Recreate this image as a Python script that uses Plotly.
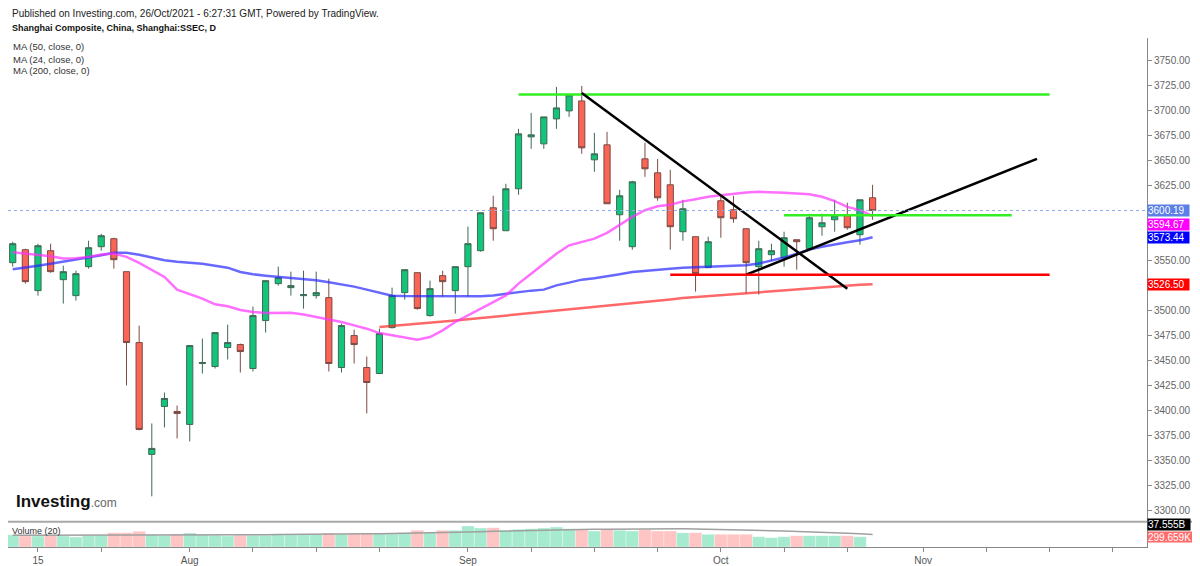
import plotly.graph_objects as go

# Shanghai Composite daily bars
dates = ["2021-07-13", "2021-07-14", "2021-07-15", "2021-07-16", "2021-07-19", "2021-07-20",
         "2021-07-21", "2021-07-22", "2021-07-23", "2021-07-26", "2021-07-27", "2021-07-28",
         "2021-07-29", "2021-07-30", "2021-08-02", "2021-08-03", "2021-08-04", "2021-08-05",
         "2021-08-06", "2021-08-09", "2021-08-10", "2021-08-11", "2021-08-12", "2021-08-13",
         "2021-08-16", "2021-08-17", "2021-08-18", "2021-08-19", "2021-08-20", "2021-08-23",
         "2021-08-24", "2021-08-25", "2021-08-26", "2021-08-27", "2021-08-30", "2021-08-31",
         "2021-09-01", "2021-09-02", "2021-09-03", "2021-09-06", "2021-09-07", "2021-09-08",
         "2021-09-09", "2021-09-10", "2021-09-13", "2021-09-14", "2021-09-15", "2021-09-16",
         "2021-09-17", "2021-09-22", "2021-09-23", "2021-09-24", "2021-09-27", "2021-09-28",
         "2021-09-29", "2021-09-30", "2021-10-08", "2021-10-11", "2021-10-12", "2021-10-13",
         "2021-10-14", "2021-10-15", "2021-10-18", "2021-10-19", "2021-10-20", "2021-10-21",
         "2021-10-22", "2021-10-25", "2021-10-26"]
future_dates = ["2021-10-27", "2021-10-28", "2021-10-29", "2021-11-01", "2021-11-02", "2021-11-03",
                "2021-11-04", "2021-11-05", "2021-11-08", "2021-11-09", "2021-11-10", "2021-11-11",
                "2021-11-12", "2021-11-15", "2021-11-16", "2021-11-17", "2021-11-18", "2021-11-19",
                "2021-11-22", "2021-11-23", "2021-11-24", "2021-11-25"]

opens = [3548, 3561, 3520, 3560, 3531, 3515, 3544, 3564, 3572, 3539, 3468, 3356, 3404, 3399,
         3386, 3447, 3444, 3463, 3466, 3442, 3490, 3527, 3523, 3515, 3515, 3513, 3443, 3475,
         3443, 3437, 3483, 3518, 3538, 3495, 3535, 3520, 3544, 3560, 3603, 3580, 3622, 3674,
         3667, 3692, 3700, 3710, 3651, 3666, 3596, 3564, 3652, 3638, 3626, 3579, 3574, 3543,
         3610, 3601, 3582, 3544, 3556, 3553, 3571, 3562, 3584, 3591, 3595, 3576, 3613]
highs = [3569, 3562, 3567, 3567, 3545, 3540, 3570, 3577, 3573, 3539, 3485, 3387, 3418, 3405,
         3465, 3472, 3478, 3486, 3467, 3504, 3530, 3544, 3539, 3540, 3539, 3532, 3487, 3481,
         3454, 3482, 3523, 3541, 3538, 3530, 3540, 3544, 3584, 3598, 3615, 3627, 3682, 3698,
         3694, 3724, 3716, 3725, 3678, 3679, 3621, 3630, 3668, 3652, 3641, 3611, 3574, 3574,
         3615, 3615, 3582, 3570, 3567, 3579, 3571, 3597, 3597, 3611, 3608, 3611, 3626]
lows = [3544, 3527, 3515, 3538, 3507, 3510, 3542, 3560, 3542, 3425, 3380, 3314, 3383, 3372,
        3369, 3437, 3442, 3451, 3438, 3439, 3478, 3525, 3515, 3502, 3512, 3439, 3438, 3447,
        3397, 3437, 3482, 3511, 3501, 3494, 3514, 3497, 3514, 3559, 3570, 3580, 3616, 3662,
        3662, 3682, 3694, 3657, 3639, 3607, 3570, 3561, 3634, 3610, 3561, 3570, 3519, 3543,
        3573, 3588, 3517, 3516, 3550, 3544, 3541, 3562, 3575, 3579, 3581, 3566, 3591]
closes = [3567, 3529, 3565, 3539, 3539, 3537, 3563, 3575, 3551, 3468, 3381, 3362, 3412, 3397,
          3465, 3448, 3478, 3468, 3459, 3495, 3530, 3533, 3525, 3516, 3518, 3447, 3485, 3466,
          3428, 3477, 3515, 3541, 3502, 3522, 3529, 3544, 3567, 3598, 3582, 3622, 3677, 3676,
          3694, 3703, 3716, 3663, 3657, 3607, 3615, 3629, 3642, 3613, 3584, 3602, 3537, 3569,
          3593, 3592, 3548, 3562, 3560, 3573, 3569, 3593, 3588, 3595, 3583, 3611, 3600.19]

# moving averages as drawn on the chart
ma50 = [3541.5, 3543, 3545, 3547, 3549, 3551, 3553, 3555.4, 3558, 3558, 3556, 3553, 3550.4,
        3549, 3548, 3547, 3545, 3543, 3538.7, 3536.4, 3535, 3534, 3533, 3531.7, 3530.4, 3528.5,
        3526.3, 3524, 3521, 3518, 3515, 3514.6, 3514.6, 3514.6, 3514.4, 3514.2, 3514.2, 3514.5,
        3515.2, 3517, 3518.6, 3520, 3521, 3525.3, 3528, 3531, 3532.5, 3534.3, 3536.5, 3538.7,
        3540, 3541, 3542, 3543, 3543.4, 3543.7, 3544, 3544.4, 3545.5, 3547.1, 3550, 3553.1,
        3557, 3561.1, 3564, 3566.5, 3568.5, 3570.5, 3573.44]
ma24 = [3558.5, 3557.1, 3555.5, 3554.4, 3552.1, 3552.5, 3553.8, 3556.1, 3557.1, 3553.8, 3547.7,
        3540.4, 3533.7, 3521, 3516.3, 3512, 3506.3, 3504.3, 3500.6, 3498.6, 3497.6, 3497.8,
        3497.9, 3496, 3493.6, 3491, 3488.6, 3485.2, 3481.9, 3477.5, 3475.2, 3473.5, 3470.9,
        3473.5, 3480.2, 3488.6, 3495, 3501.9, 3508.6, 3515.2, 3527, 3537, 3547, 3557, 3565.4,
        3568.8, 3572.1, 3577.8, 3585.5, 3593.8, 3600.5, 3604.5, 3606, 3609.4, 3611.6, 3614,
        3615.6, 3617.3, 3618.3, 3619, 3618.7, 3618, 3617.3, 3616.6, 3614, 3609.6, 3603.9,
        3600.6, 3594.67]
ma200 = [None] * 29 + [3483.5, 3484.5, 3485.5, 3486.5, 3487.7, 3488.8, 3490, 3491.3, 3492.5,
                       3493.7, 3495, 3496.2, 3497.5, 3498.7, 3500, 3501.2, 3502.5, 3503.7,
                       3505, 3506.2, 3507.5, 3508.7, 3510, 3511.2, 3512.5, 3513.5, 3514.5,
                       3515.5, 3516.5, 3517.5, 3518.5, 3519.5, 3520.5, 3521.5, 3522.5, 3523.5,
                       3524.5, 3525.3, 3526, 3526.5]

# volume, billions
volume = [37, 33, 33, 35, 33, 30, 35, 35, 43, 43, 47, 37, 35, 39, 42, 37, 35, 33, 35, 35, 35,
          38, 37, 37, 38, 42, 38, 40, 40, 40, 40, 43, 50, 43, 50, 50, 63, 57, 58, 51, 53, 55,
          57, 60, 55, 53, 48, 53, 50, 48, 52, 48, 48, 43, 43, 38, 38, 38, 38, 31, 28, 31, 34,
          34, 34, 34, 34, 31, 0.000299659]
volume_ma = [35, 35, 35, 35, 35, 35, 35, 35.5, 35.5, 36, 36, 36, 36, 36.5, 36.5, 36.5, 37, 37,
             37, 37, 37, 37.5, 37.5, 38, 38, 38, 38.5, 39, 39.5, 40, 40.5, 41, 41.5, 42, 43, 44,
             45, 46, 47, 48, 49, 50, 51, 51.5, 52, 52.5, 53, 53.5, 54, 54.5, 55, 55, 55, 54.5,
             54, 53.5, 53, 52, 51, 50, 49, 48, 47, 45.5, 44, 42.5, 41, 39.5, 37.555]

tick_dates = ["2021-07-15", "2021-07-22", "2021-08-02", "2021-08-09", "2021-08-16", "2021-08-23",
              "2021-09-01", "2021-09-08", "2021-09-15", "2021-09-24", "2021-10-08", "2021-10-15",
              "2021-10-22", "2021-11-01", "2021-11-08", "2021-11-15", "2021-11-22"]
tick_text = ["15", "", "Aug", "", "", "", "Sep", "", "", "", "Oct", "", "", "Nov", "", "", ""]

# price ticks; the ones hidden behind the value labels are left out
price_ticks = [3300, 3325, 3350, 3375, 3400, 3425, 3450, 3475, 3500, 3550, 3625, 3650, 3675,
               3700, 3725, 3750]

# author's drawings: (start date, start price, end date, end price, colour)
drawings = [
    ("2021-09-07", 3716.5, "2021-11-15", 3716.5, "#33ee22"),
    ("2021-09-14", 3718, "2021-10-22", 3522, "#000000"),
    ("2021-10-12", 3536, "2021-11-12", 3652, "#000000"),
    ("2021-10-15", 3595.5, "2021-11-10", 3595.5, "#33ee22"),
    ("2021-09-27", 3536, "2021-11-15", 3536, "#ff0000"),
]

all_dates = dates + future_dates
x = list(range(len(dates)))
xpos = {d: i for i, d in enumerate(all_dates)}

# the page body has an 8px margin, so the figure is 8px smaller and offset
OFF = 8
W, H = 1200 - OFF, 566 - OFF
L, T, B = 0, 38 - OFF, 19
R = W - (1147.5 - OFF)
pw, ph = W - L - R, H - T - B


def px(xp):
    return (xp - OFF - L) / pw


def py(yp):
    return (H - B - (yp - OFF)) / ph


vol_top = py(521.7)

fig = go.Figure()

fig.add_trace(go.Candlestick(
    x=x, open=opens, high=highs, low=lows, close=closes,
    increasing=dict(fillcolor="#13c47b", line=dict(color="#3e6a55", width=1)),
    decreasing=dict(fillcolor="#fb6555", line=dict(color="#7c4a44", width=1)),
    whiskerwidth=0, xaxis="x", yaxis="y", showlegend=False))

fig.add_trace(go.Scatter(x=x, y=ma200, mode="lines", line=dict(color="rgba(255,40,40,0.7)", width=2.5),
                         xaxis="x", yaxis="y", showlegend=False))
fig.add_trace(go.Scatter(x=x, y=ma50, mode="lines", line=dict(color="rgba(40,40,255,0.7)", width=2.5),
                         xaxis="x", yaxis="y", showlegend=False))
fig.add_trace(go.Scatter(x=x, y=ma24, mode="lines", line=dict(color="rgba(255,50,255,0.7)", width=2.5),
                         xaxis="x", yaxis="y", showlegend=False))

for d0, p0, d1, p1, col in drawings:
    fig.add_trace(go.Scatter(x=[xpos[d0], xpos[d1]], y=[p0, p1], mode="lines",
                             line=dict(color=col, width=2.5), xaxis="x", yaxis="y",
                             showlegend=False))

vol_colors = ["#a6ebcf" if c >= o else "#ffc4c4" for o, c in zip(opens, closes)]
fig.add_trace(go.Bar(x=x, y=volume, width=1,
                     marker=dict(color=vol_colors, line=dict(color="rgba(255,255,255,0.6)", width=0.5)),
                     xaxis="x2", yaxis="y2", showlegend=False))
fig.add_trace(go.Scatter(x=x, y=volume_ma, mode="lines", line=dict(color="#a0a0a0", width=1.5),
                         xaxis="x2", yaxis="y2", showlegend=False))

xr = [(OFF - 12.7) / 12.65, 89.7]
fig.update_layout(
    width=W, height=H, margin=dict(l=L, r=R, t=T, b=B),
    paper_bgcolor="white", plot_bgcolor="white",
    font=dict(family="Liberation Sans, Arial, sans-serif", size=10, color="#555"),
    xaxis=dict(range=xr, domain=[0, 1], anchor="y", showticklabels=False, showgrid=False,
               zeroline=False, showline=False, rangeslider=dict(visible=False), matches="x2"),
    xaxis2=dict(range=xr, domain=[0, 1], anchor="y2", showgrid=False, zeroline=False,
                showline=True, linecolor="#888", linewidth=1,
                tickmode="array", tickvals=[xpos[d] for d in tick_dates], ticktext=tick_text,
                ticks="outside", ticklen=4, tickcolor="#888",
                tickfont=dict(size=10, color="#555")),
    yaxis=dict(domain=[vol_top, 1], range=[3288.6, 3773], side="right", anchor="x",
               showgrid=False, zeroline=False, showline=True, linecolor="#888", linewidth=1,
               tickmode="array", tickvals=price_ticks,
               ticktext=[f"{v:.2f}" for v in price_ticks],
               ticks="outside", ticklen=4, tickcolor="#888", tickfont=dict(size=10, color="#666")),
    yaxis2=dict(domain=[0, vol_top], range=[0, 76], side="right", anchor="x2",
                showgrid=False, zeroline=False, showline=True, linecolor="#888", linewidth=1,
                showticklabels=False, ticks=""),
    showlegend=False,
)

# last price dotted line and panel separator
fig.add_shape(type="line", xref="paper", x0=0, x1=1, yref="y", y0=closes[-1], y1=closes[-1],
              line=dict(color="#8fa8ea", width=1, dash="dot"))
fig.add_shape(type="line", xref="paper", x0=0, x1=px(1196), yref="paper", y0=vol_top, y1=vol_top,
              line=dict(color="#a8a8a8", width=2))

# value labels on the price axis
labels = [(closes[-1], "#5b7fe6", 0), (ma24[-1], "#ff00ff", -8), (ma50[-1], "#0000ff", 0),
          (ma200[-1], "#ff0000", 0)]
for val, col, shift in labels:
    fig.add_annotation(x=1, xref="paper", xanchor="left", y=val, yref="y", yshift=shift,
                       text=f"{val:.2f}", showarrow=False, bgcolor=col, width=41, height=11,
                       align="left", borderpad=0, font=dict(color="white", size=10))
fig.add_annotation(x=1, xref="paper", xanchor="left", y=py(531), yref="paper",
                   text=f"{volume_ma[-1]:.3f}B", showarrow=False, bgcolor="#000000", width=42,
                   height=11, align="left", borderpad=0, font=dict(color="white", size=10))
fig.add_annotation(x=1, xref="paper", xanchor="left", y=py(543), yref="paper",
                   text=f"{volume[-1] * 1e6:.3f}K", showarrow=False, bgcolor="#ff6b6b", width=46,
                   height=10, align="left", borderpad=0, font=dict(color="white", size=10))

# header texts
texts = [
    (10, 13.5, "Published on Investing.com, 26/Oct/2021 - 6:27:31 GMT, Powered by TradingView.", 10, "#222"),
    (10, 28, "<b>Shanghai Composite, China, Shanghai:SSEC, D</b>", 9, "#111"),
    (11, 46, "MA (50, close, 0)", 9.5, "#333"),
    (11, 59, "MA (24, close, 0)", 9.5, "#333"),
    (11, 71, "MA (200, close, 0)", 9.5, "#333"),
    (10, 531, "Volume (20)", 9, "#333"),
]
for xp, yp, t, s, c in texts:
    fig.add_annotation(x=px(xp), xref="paper", xanchor="left", y=py(yp), yref="paper",
                       yanchor="middle", text=t, showarrow=False, font=dict(size=s, color=c))

fig.add_annotation(x=px(14), xref="paper", xanchor="left", y=py(501), yref="paper", yanchor="middle",
                   text="<b>Investing</b><span style='font-size:12px;color:#666'>.com</span>",
                   showarrow=False, font=dict(size=17, color="#111", family="Liberation Sans, Arial"))

fig.write_html("out.html")
